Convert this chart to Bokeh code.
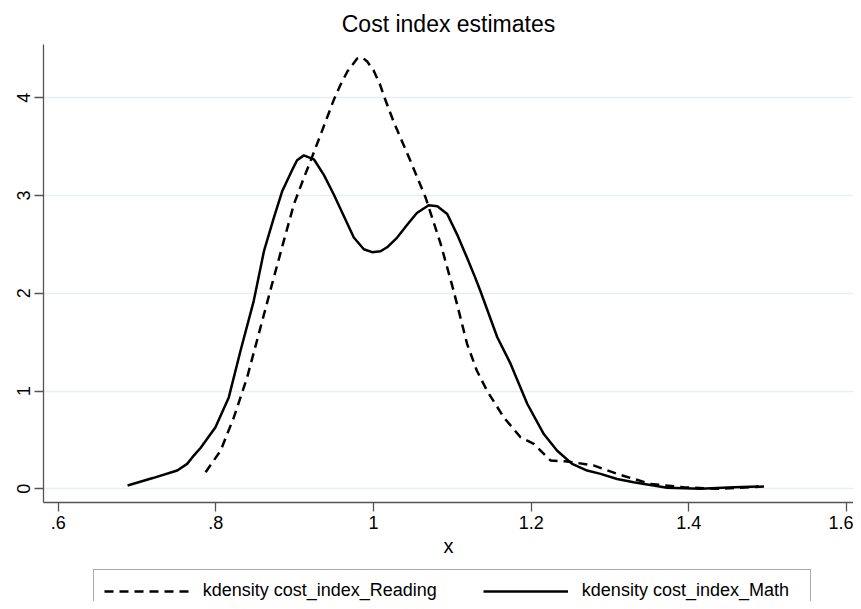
from bokeh.plotting import figure
from bokeh.layouts import column
from bokeh.models import Range1d, FixedTicker, Legend, LegendItem
from bokeh.embed import file_html
from bokeh.resources import INLINE

# ---- data ----
reading_x = [0.787, 0.806, 0.8228, 0.8397, 0.8566, 0.8735, 0.886, 0.899, 0.9116, 0.920,
             0.9328, 0.9497, 0.958, 0.967, 0.9793, 0.986, 0.992, 1.000, 1.008, 1.014,
             1.0257, 1.047, 1.066, 1.085, 1.1018, 1.1188, 1.131, 1.1442, 1.1653, 1.1865,
             1.2033, 1.2245, 1.2457, 1.279, 1.309, 1.3513, 1.3936, 1.436, 1.478, 1.5015]
reading_y = [0.17, 0.39, 0.73, 1.14, 1.65, 2.16, 2.53, 2.91, 3.18, 3.35,
             3.62, 3.98, 4.13, 4.27, 4.40, 4.41, 4.37, 4.28, 4.14, 4.0,
             3.75, 3.35, 2.98, 2.51, 2.02, 1.48, 1.21, 1.0, 0.73, 0.527,
             0.46, 0.29, 0.28, 0.24, 0.153, 0.05, 0.016, 0.0, 0.016, 0.027]

math_x = [0.688, 0.72, 0.751, 0.7636, 0.772, 0.7808, 0.7995, 0.8164, 0.8312, 0.848,
          0.861, 0.8735, 0.884, 0.898, 0.903, 0.9116, 0.9243, 0.937, 0.9496, 0.975,
          0.9877, 0.9983, 1.0089, 1.0173, 1.030, 1.0427, 1.055, 1.070, 1.081, 1.0935,
          1.1061, 1.1188, 1.129, 1.1357, 1.157, 1.1738, 1.195, 1.216, 1.233, 1.252,
          1.271, 1.288, 1.309, 1.330, 1.3725, 1.415, 1.457, 1.489]
math_y = [0.034, 0.11, 0.187, 0.255, 0.34, 0.42, 0.629, 0.935, 1.41, 1.92,
          2.43, 2.77, 3.04, 3.28, 3.36, 3.41, 3.37, 3.21, 3.01, 2.57,
          2.45, 2.42, 2.43, 2.47, 2.57, 2.70, 2.82, 2.90, 2.89, 2.81,
          2.60, 2.36, 2.16, 2.02, 1.55, 1.28, 0.87, 0.56, 0.39, 0.255,
          0.187, 0.153, 0.10, 0.067, 0.01, 0.0, 0.016, 0.023]

x_ticks = [0.6, 0.8, 1.0, 1.2, 1.4, 1.6]
x_tick_labels = [".6", ".8", "1", "1.2", "1.4", "1.6"]
y_ticks = [0, 1, 2, 3, 4]
y_tick_labels = ["0", "1", "2", "3", "4"]

title_text = "Cost index estimates"
x_label = "x"
reading_label = "kdensity cost_index_Reading"
math_label = "kdensity cost_index_Math"

FONT = "Liberation Sans"
AXIS_COLOR = "#555555"
GRID_COLOR = "#E6EEF1"
READ_STYLE = dict(line_color="black", line_width=2.5, line_dash="9 6")
MATH_STYLE = dict(line_color="black", line_width=2.5)

p = figure(width=853, height=568, output_backend="svg", toolbar_location=None,
           x_range=Range1d(0.58135, 1.6089), y_range=Range1d(-0.1398, 4.5439),
           min_border_left=43, min_border_right=0, min_border_top=43,
           min_border_bottom=66)
p.outline_line_color = None
p.background_fill_color = "white"
p.border_fill_color = "white"

p.title.text = title_text
p.title.align = "center"
p.title.text_font = FONT
p.title.text_font_size = "23px"
p.title.text_font_style = "normal"
p.title.text_color = "black"
p.title.standoff = 16

# x axis
xa = p.xaxis[0]
xa.ticker = FixedTicker(ticks=x_ticks)
xa.major_label_overrides = {t: l for t, l in zip(x_ticks, x_tick_labels)}
xa.minor_tick_line_color = None
xa.major_tick_out = 9
xa.major_tick_in = 0
xa.major_label_standoff = 4
xa.axis_line_color = AXIS_COLOR
xa.axis_line_width = 1.3
xa.major_tick_line_color = AXIS_COLOR
xa.major_tick_line_width = 1.3
xa.major_label_text_font = FONT
xa.major_label_text_font_size = "18px"
xa.major_label_text_color = "black"
xa.axis_label = x_label
xa.axis_label_text_font = FONT
xa.axis_label_text_font_size = "20px"
xa.axis_label_text_font_style = "normal"
xa.axis_label_text_color = "black"
xa.axis_label_standoff = 3

# y axis
ya = p.yaxis[0]
ya.ticker = FixedTicker(ticks=y_ticks)
ya.major_label_overrides = {t: l for t, l in zip(y_ticks, y_tick_labels)}
ya.minor_tick_line_color = None
ya.major_tick_out = 9
ya.major_tick_in = 0
ya.major_label_standoff = 4
ya.major_label_orientation = "vertical"
ya.axis_line_color = AXIS_COLOR
ya.axis_line_width = 1.3
ya.major_tick_line_color = AXIS_COLOR
ya.major_tick_line_width = 1.3
ya.major_label_text_font = FONT
ya.major_label_text_font_size = "18px"
ya.major_label_text_color = "black"

p.xgrid.grid_line_color = None
p.ygrid.ticker = FixedTicker(ticks=y_ticks)
p.ygrid.grid_line_color = GRID_COLOR
p.ygrid.grid_line_width = 1.3

p.line(reading_x, reading_y, **READ_STYLE)
p.line(math_x, math_y, **MATH_STYLE)

# ---- legend strip below the chart (proxy lines lie outside its view) ----
leg_fig = figure(width=853, height=33, output_backend="svg", toolbar_location=None,
                 x_axis_type=None, y_axis_type=None,
                 x_range=Range1d(0, 1), y_range=Range1d(10, 11),
                 min_border=0)
leg_fig.outline_line_color = None
leg_fig.xgrid.grid_line_color = None
leg_fig.ygrid.grid_line_color = None
leg_fig.background_fill_color = "white"
leg_fig.border_fill_color = "white"
lr_read = leg_fig.line(reading_x, reading_y, **READ_STYLE)
lr_math = leg_fig.line(math_x, math_y, **MATH_STYLE)

legend = Legend(items=[LegendItem(label=reading_label, renderers=[lr_read]),
                       LegendItem(label=math_label, renderers=[lr_math])],
                orientation="horizontal", location=(49.7, -11.3))
legend.margin = 0
legend.padding = 10
legend.spacing = 46
legend.glyph_width = 85
legend.glyph_height = 20
legend.label_standoff = 14
legend.label_width = 218
legend.label_text_font = FONT
legend.label_text_font_size = "18px"
legend.label_text_color = "black"
legend.border_line_color = AXIS_COLOR
legend.border_line_width = 1.3
legend.background_fill_color = "white"
legend.background_fill_alpha = 1.0
leg_fig.add_layout(legend)

layout = column(p, leg_fig, spacing=0)
open("out.html", "w").write(file_html(layout, INLINE))
